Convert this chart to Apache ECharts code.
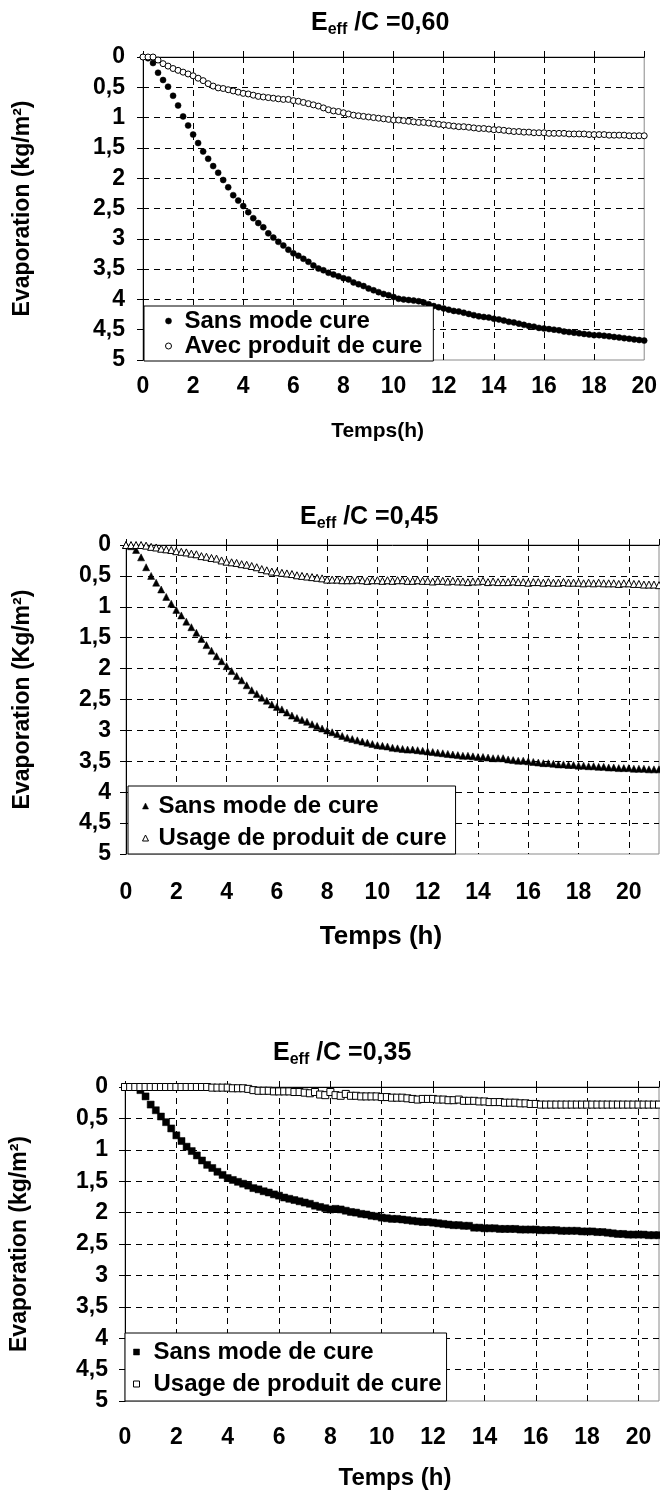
<!DOCTYPE html>
<html>
<head>
<meta charset="utf-8">
<script src="https://cdn.jsdelivr.net/npm/echarts@6/dist/echarts.min.js"></script>
<style>
html, body { margin: 0; padding: 0; background: #fff; }
#chart { width: 660px; height: 1493px; }
</style>
</head>
<body>
<div id="chart"></div>
<script>
// sampling times (h), shared by the three panels
var hours = [
    0, 0.2, 0.4, 0.6, 0.8, 1, 1.2, 1.4, 1.6, 1.8,
    2, 2.2, 2.4, 2.6, 2.8, 3, 3.2, 3.4, 3.6, 3.8,
    4, 4.2, 4.4, 4.6, 4.8, 5, 5.2, 5.4, 5.6, 5.8,
    6, 6.2, 6.4, 6.6, 6.8, 7, 7.2, 7.4, 7.6, 7.8,
    8, 8.2, 8.4, 8.6, 8.8, 9, 9.2, 9.4, 9.6, 9.8,
    10, 10.2, 10.4, 10.6, 10.8, 11, 11.2, 11.4, 11.6, 11.8,
    12, 12.2, 12.4, 12.6, 12.8, 13, 13.2, 13.4, 13.6, 13.8,
    14, 14.2, 14.4, 14.6, 14.8, 15, 15.2, 15.4, 15.6, 15.8,
    16, 16.2, 16.4, 16.6, 16.8, 17, 17.2, 17.4, 17.6, 17.8,
    18, 18.2, 18.4, 18.6, 18.8, 19, 19.2, 19.4, 19.6, 19.8,
    20, 20.2, 20.4, 20.6, 20.8, 21, 21.2];

// E/C = 0,60 : evaporation (kg/m2)
var sans060 = [
    0, 0.02, 0.1, 0.26, 0.38, 0.49, 0.64, 0.8, 0.98, 1.13,
    1.28, 1.42, 1.56, 1.68, 1.8, 1.91, 2.03, 2.15, 2.28, 2.37,
    2.46, 2.56, 2.66, 2.74, 2.81, 2.91, 2.98, 3.05, 3.11, 3.18,
    3.24, 3.28, 3.33, 3.38, 3.44, 3.49, 3.52, 3.56, 3.59, 3.62,
    3.65, 3.67, 3.72, 3.75, 3.78, 3.82, 3.85, 3.88, 3.91, 3.93,
    3.96, 3.99, 4.0, 4.01, 4.02, 4.03, 4.05, 4.08, 4.11, 4.13,
    4.15, 4.17, 4.19, 4.2, 4.22, 4.24, 4.26, 4.28, 4.29, 4.3,
    4.32, 4.33, 4.35, 4.37, 4.38, 4.4, 4.42, 4.44, 4.45, 4.47,
    4.48, 4.49, 4.5, 4.51, 4.53, 4.54, 4.55, 4.56, 4.57, 4.58,
    4.59, 4.59, 4.6, 4.61, 4.62, 4.63, 4.64, 4.65, 4.66, 4.67,
    4.68];
var avec060 = [
    0, 0, 0, 0.05, 0.11, 0.15, 0.19, 0.22, 0.25, 0.28,
    0.31, 0.35, 0.39, 0.44, 0.48, 0.51, 0.52, 0.54, 0.56, 0.58,
    0.6, 0.61, 0.63, 0.65, 0.66, 0.67, 0.68, 0.69, 0.7, 0.7,
    0.72, 0.73, 0.75, 0.77, 0.79, 0.81, 0.84, 0.87, 0.89, 0.9,
    0.92, 0.94, 0.96, 0.97, 0.98, 0.99, 1.0, 1.01, 1.02, 1.03,
    1.04, 1.04, 1.05, 1.06, 1.07, 1.08, 1.08, 1.09, 1.1, 1.11,
    1.12, 1.13, 1.14, 1.15, 1.15, 1.16, 1.17, 1.18, 1.18, 1.19,
    1.2, 1.2, 1.21, 1.22, 1.23, 1.23, 1.24, 1.24, 1.25, 1.25,
    1.25, 1.26, 1.26, 1.26, 1.26, 1.27, 1.27, 1.27, 1.27, 1.28,
    1.28, 1.28, 1.28, 1.29, 1.29, 1.29, 1.29, 1.3, 1.3, 1.3,
    1.3];

// E/C = 0,45
var sans045 = [
    0, 0.02, 0.08, 0.2, 0.36, 0.5, 0.61, 0.72, 0.84, 0.95,
    1.05, 1.14, 1.24, 1.33, 1.42, 1.52, 1.62, 1.71, 1.8, 1.88,
    1.96, 2.04, 2.12, 2.19, 2.27, 2.35, 2.41, 2.47, 2.52, 2.58,
    2.62, 2.66, 2.71, 2.76, 2.8, 2.83, 2.86, 2.9, 2.93, 2.97,
    3.0, 3.03, 3.06, 3.09, 3.12, 3.14, 3.16, 3.18, 3.2, 3.22,
    3.24, 3.25, 3.26, 3.28, 3.29, 3.3, 3.31, 3.31, 3.32, 3.33,
    3.34, 3.35, 3.36, 3.37, 3.38, 3.39, 3.4, 3.41, 3.41, 3.42,
    3.43, 3.43, 3.44, 3.45, 3.45, 3.45, 3.47, 3.48, 3.49, 3.49,
    3.5, 3.51, 3.52, 3.53, 3.53, 3.54, 3.55, 3.55, 3.56, 3.56,
    3.57, 3.57, 3.58, 3.58, 3.59, 3.59, 3.6, 3.6, 3.61, 3.61,
    3.61, 3.62, 3.62, 3.62, 3.63, 3.63, 3.63];
var usage045 = [
    0, 0, 0, 0, 0.01, 0.03, 0.04, 0.06, 0.07, 0.08,
    0.1, 0.11, 0.12, 0.14, 0.15, 0.18, 0.19, 0.21, 0.22, 0.25,
    0.27, 0.28, 0.29, 0.31, 0.32, 0.34, 0.36, 0.39, 0.41, 0.43,
    0.44, 0.45, 0.46, 0.47, 0.49, 0.5, 0.51, 0.52, 0.53, 0.54,
    0.56, 0.56, 0.56, 0.57, 0.57, 0.57, 0.56, 0.57, 0.58, 0.57,
    0.57, 0.58, 0.57, 0.58, 0.57, 0.57, 0.58, 0.58, 0.57, 0.58,
    0.58, 0.59, 0.58, 0.58, 0.59, 0.58, 0.59, 0.59, 0.6, 0.59,
    0.59, 0.58, 0.6, 0.59, 0.6, 0.6, 0.6, 0.59, 0.6, 0.6,
    0.61, 0.6, 0.6, 0.61, 0.6, 0.61, 0.61, 0.6, 0.61, 0.61,
    0.61, 0.62, 0.61, 0.62, 0.61, 0.62, 0.62, 0.62, 0.63, 0.62,
    0.62, 0.63, 0.63, 0.64, 0.64, 0.64, 0.65];

// E/C = 0,35
var sans035 = [
    0, 0, 0, 0.05, 0.15, 0.28, 0.37, 0.47, 0.56, 0.66,
    0.77, 0.86, 0.95, 1.02, 1.09, 1.17, 1.24, 1.29, 1.35, 1.4,
    1.45, 1.48, 1.51, 1.54, 1.57, 1.61, 1.63, 1.66, 1.68, 1.71,
    1.73, 1.76, 1.78, 1.8, 1.82, 1.84, 1.86, 1.89, 1.91, 1.93,
    1.95, 1.94, 1.95, 1.97, 1.99, 2.0, 2.02, 2.03, 2.05, 2.06,
    2.08, 2.09, 2.1, 2.1, 2.11, 2.12, 2.13, 2.14, 2.15, 2.15,
    2.16, 2.17, 2.18, 2.19, 2.2, 2.2, 2.21, 2.21, 2.24, 2.24,
    2.25, 2.25, 2.25, 2.26, 2.26, 2.26, 2.26, 2.27, 2.27, 2.27,
    2.27, 2.28, 2.28, 2.28, 2.28, 2.29, 2.29, 2.29, 2.29, 2.3,
    2.3, 2.3, 2.31, 2.31, 2.32, 2.33, 2.34, 2.34, 2.35, 2.35,
    2.35, 2.35, 2.36, 2.36, 2.36];
var usage035 = [
    0, 0, 0, 0, 0, 0, 0, 0, 0, 0,
    0, 0, 0, 0, 0, 0, 0, 0.01, 0.01, 0.01,
    0.01, 0.02, 0.02, 0.02, 0.03, 0.05, 0.06, 0.06, 0.06, 0.07,
    0.07, 0.07, 0.07, 0.08, 0.08, 0.09, 0.1, 0.08, 0.12, 0.13,
    0.08, 0.13, 0.14, 0.11, 0.14, 0.14, 0.15, 0.15, 0.15, 0.15,
    0.16, 0.16, 0.17, 0.17, 0.17, 0.18, 0.19, 0.2, 0.19, 0.19,
    0.19, 0.2, 0.2, 0.21, 0.21, 0.2, 0.22, 0.22, 0.22, 0.23,
    0.23, 0.24, 0.24, 0.24, 0.25, 0.25, 0.25, 0.26, 0.26, 0.27,
    0.27, 0.28, 0.28, 0.28, 0.28, 0.28, 0.28, 0.28, 0.28, 0.28,
    0.28, 0.28, 0.28, 0.28, 0.28, 0.28, 0.28, 0.28, 0.28, 0.28,
    0.28, 0.28, 0.28, 0.28, 0.28];

var ratioLabels = ['0,60', '0,45', '0,35'];
var yNames = ['Evaporation (kg/m²)', 'Evaporation (Kg/m²)', 'Evaporation (kg/m²)'];
var xNames = ['Temps(h)', 'Temps (h)', 'Temps (h)'];
var sansNames = ['Sans mode cure', 'Sans mode de cure', 'Sans mode de cure'];
var curedNames = ['Avec produit de cure', 'Usage de produit de cure', 'Usage de produit de cure'];
var xMaxes = [20, 21.2, 20.8];
var seriesData = [[sans060, avec060], [sans045, usage045], [sans035, usage035]];

var FONT = '"Liberation Sans", Arial, sans-serif';

// layout of each panel (px)
var panels = [
    { grid: { left: 143, top: 57, width: 506, height: 303 }, titleLeft: 311, titleTop: 8,
      yGap: 109, yMargin: 18, xLabelMargin: 15, xGap: 61, xNameSize: 21, xNamePad: [0, 32, 0, 0],
      symbol: 'circle', symbolSize: 6,
      legend: { left: 144, top: 306, padding: [3, 11, 3, 21], itemGap: 1, textPad: [0, 0, 0, 8] } },
    { grid: { left: 126, top: 545, width: 533, height: 309 }, titleLeft: 300, titleTop: 502,
      yGap: 92, yMargin: 15, xLabelMargin: 27, xGap: 70, xNameSize: 26, xNamePad: [0, 23, 0, 0],
      symbol: 'triangle', symbolSize: 7,
      legend: { left: 128, top: 786, padding: [8, 9, 4, 14], itemGap: 8, textPad: [0, 0, 0, 5] } },
    { grid: { left: 125, top: 1087, width: 534, height: 314 }, titleLeft: 273, titleTop: 1038,
      yGap: 94, yMargin: 17, xLabelMargin: 25, xGap: 65, xNameSize: 24, xNamePad: [0, 0, 0, 6],
      symbol: 'rect', symbolSize: 7,
      legend: { left: 125, top: 1333, padding: [7, 5, 5, 8], itemGap: 8, textPad: [0, 0, 0, 9] } }
];

function pairs(values) {
    var out = [];
    for (var i = 0; i < values.length; i++) {
        out.push([hours[i], values[i]]);
    }
    return out;
}

function comma(v) {
    return String(v).replace('.', ',');
}

function bold(size, extra) {
    var s = { fontFamily: FONT, fontWeight: 'bold', color: '#000', fontSize: size };
    for (var k in extra) s[k] = extra[k];
    return s;
}

var dash = { color: '#000', width: 1, type: [6, 5] };
var openStyle = { color: '#fff', borderColor: '#000', borderWidth: 1, opacity: 1 };
var fullStyle = { color: '#000', borderColor: '#000', borderWidth: 0.5, opacity: 1 };

var option = {
    backgroundColor: '#fff',
    animation: false,
    title: [], grid: [], xAxis: [], yAxis: [], legend: [], series: []
};

panels.forEach(function (p, i) {
    option.title.push({
        text: '{e|E}{s|eff}{e| /C =' + ratioLabels[i] + '}',
        left: p.titleLeft,
        top: p.titleTop,
        padding: 0,
        textStyle: {
            rich: {
                e: bold(25, { lineHeight: 30 }),
                s: bold(16, { lineHeight: 14, verticalAlign: 'bottom' })
            }
        }
    });
    option.grid.push({
        left: p.grid.left, top: p.grid.top, width: p.grid.width, height: p.grid.height,
        show: true, borderColor: '#8a8a8a', borderWidth: 1
    });
    // bottom axis: tick labels + vertical dashed grid
    option.xAxis.push({
        gridIndex: i, type: 'value', min: 0, max: xMaxes[i], interval: 2,
        position: 'bottom',
        axisLine: { show: false }, axisTick: { show: false },
        axisLabel: bold(23, { margin: p.xLabelMargin, showMaxLabel: xMaxes[i] === 20 }),
        splitLine: { show: true, showMinLine: false, showMaxLine: false, lineStyle: dash },
        name: xNames[i], nameLocation: 'middle', nameGap: p.xGap,
        nameTextStyle: bold(p.xNameSize, { padding: p.xNamePad })
    });
    // top axis: black line with outward ticks (the axis crosses at 0)
    option.xAxis.push({
        gridIndex: i, type: 'value', min: 0, max: xMaxes[i], interval: 2,
        position: 'top',
        axisLine: { show: true, onZero: false, lineStyle: { color: '#000', width: 1 } },
        axisTick: { show: true, length: 6, lineStyle: { color: '#000' } },
        axisLabel: { show: false }, splitLine: { show: false }
    });
    option.yAxis.push({
        gridIndex: i, type: 'value', min: 0, max: 5, interval: 0.5, inverse: true,
        axisLine: { show: true, onZero: false, lineStyle: { color: '#000', width: 1 } },
        axisTick: { show: true, length: 6, lineStyle: { color: '#000' } },
        axisLabel: bold(23, { margin: p.yMargin, formatter: comma }),
        splitLine: { show: true, showMinLine: false, showMaxLine: false, lineStyle: dash },
        name: yNames[i], nameLocation: 'middle', nameRotate: 90, nameGap: p.yGap,
        nameTextStyle: bold(23)
    });
    option.legend.push({
        orient: 'vertical', left: p.legend.left, top: p.legend.top, padding: p.legend.padding,
        backgroundColor: '#fff', borderColor: '#000', borderWidth: 1, borderRadius: 0,
        itemGap: p.legend.itemGap, itemWidth: 6, itemHeight: 6, selectedMode: false,
        textStyle: bold(24, { lineHeight: 24, padding: p.legend.textPad }),
        data: [
            { name: sansNames[i], icon: p.symbol, itemStyle: fullStyle },
            { name: curedNames[i], icon: p.symbol, itemStyle: openStyle }
        ]
    });
    option.series.push({
        name: sansNames[i], type: 'scatter', xAxisIndex: i * 2, yAxisIndex: i,
        symbol: p.symbol, symbolSize: p.symbolSize, itemStyle: fullStyle,
        data: pairs(seriesData[i][0])
    });
    option.series.push({
        name: curedNames[i], type: 'scatter', xAxisIndex: i * 2, yAxisIndex: i,
        symbol: p.symbol, symbolSize: p.symbolSize, itemStyle: openStyle,
        data: pairs(seriesData[i][1])
    });
});

var myChart = echarts.init(document.getElementById('chart'));
myChart.setOption(option);
</script>
</body>
</html>
